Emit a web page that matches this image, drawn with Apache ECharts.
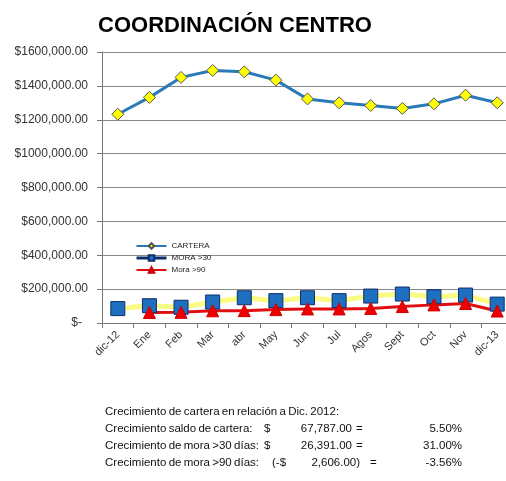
<!DOCTYPE html>
<html><head><meta charset="utf-8">
<script src="https://cdn.jsdelivr.net/npm/echarts@6/dist/echarts.min.js"></script>
<style>html,body{margin:0;padding:0;background:#fff}#c{width:506px;height:481px}</style>
</head><body><div id="c"></div>
<script>
var categories = ['dic-12','Ene','Feb','Mar','abr','May','Jun','Jul','Agos','Sept','Oct','Nov','dic-13'];
var cartera = [1232491,1332000,1450000,1491000,1483000,1434000,1323000,1300000,1284000,1267000,1294000,1345000,1300278];
var mora30 = [85132,102000,93000,124000,149000,132000,149000,132000,159000,171000,155000,165000,111523];
var mora90 = [null,62000,63000,72000,73000,79000,83000,83000,86000,97000,107000,115000,70596];
var yTicks = [0,200000,400000,600000,800000,1000000,1200000,1400000,1600000];
var seriesNames = ['CARTERA','MORA >30','Mora >90'];
var title = 'COORDINACIÓN CENTRO';
var noteLabels = ['Crecimiento de cartera en relación a Dic. 2012:', 'Crecimiento saldo de cartera:', 'Crecimiento de mora >30 días:', 'Crecimiento de mora >90 días:'];
var noteCurrency = ['', '$', '$', '(-$'];
var noteAmounts = ['', '67,787.00', '26,391.00', '2,606.00)'];
var notePercents = ['', '5.50%', '31.00%', '-3.56%'];

var chart = echarts.init(document.getElementById('c'), null, {renderer:'canvas'});
var font = 'Liberation Sans, Arial, sans-serif';
var TS = '\u2009';
function tight(s){ return s.split(' ').join(TS); }
var graphics = [];
var curX = [0, 264, 264, 272];
var amtRight = [0, 352, 352, 360];
var eqX = [0, 356, 356, 370];
noteLabels.forEach(function(lbl, i){
  var y = 412 + i*17;
  var st = function(t, align){ return {text:t, font:'11.5px ' + font, fill:'#111', textAlign:align||'left', textVerticalAlign:'middle'}; };
  graphics.push({type:'text', x:105, y:y, style:st(tight(lbl))});
  if (noteCurrency[i]) {
    graphics.push({type:'text', x:curX[i], y:y, style:st(noteCurrency[i])});
    graphics.push({type:'text', x:amtRight[i], y:y, style:st(noteAmounts[i], 'right')});
    graphics.push({type:'text', x:eqX[i], y:y, style:st('=')});
    graphics.push({type:'text', x:462, y:y, style:st(notePercents[i], 'right')});
  }
});

chart.setOption({
  animation:false,
  backgroundColor:'#fff',
  title:{text:title, left:230, top:10, textAlign:'center',
    textStyle:{fontFamily:font, fontSize:22, fontWeight:'bold', color:'#000'}},
  legend:{orient:'vertical', left:130, top:237, itemGap:4, itemWidth:30, itemHeight:7,
    textStyle:{fontFamily:font, fontSize:8, color:'#222'},
    data:[
      {name:seriesNames[0]},
      {name:seriesNames[1], lineStyle:{color:'#0d2d6b', width:3, opacity:1}},
      {name:seriesNames[2]}
    ]},
  grid:{left:102, width:411, top:52, height:271, outerBoundsMode:'none', containLabel:false},
  xAxis:{type:'category', data:categories, boundaryGap:true,
    axisLine:{lineStyle:{color:'#777'}},
    axisTick:{show:true, length:5, lineStyle:{color:'#777'}},
    axisLabel:{rotate:45, fontFamily:font, fontSize:11, color:'#333', margin:10}},
  yAxis:{type:'value', min:0, max:1600000, interval:200000,
    axisLine:{show:true, lineStyle:{color:'#777'}},
    axisTick:{show:true, length:5, lineStyle:{color:'#777'}},
    splitLine:{lineStyle:{color:'#888', width:1}},
    axisLabel:{fontFamily:font, fontSize:12, color:'#333', margin:14,
      formatter:function(v){ return v===0 ? '$-\u2002' : '$' + (v/1000) + ',000.00'; }}},
  series:[
    {name:seriesNames[0], type:'line', data:cartera, symbol:'diamond', symbolSize:12,
      lineStyle:{color:'#2a7ab8', width:3},
      itemStyle:{color:'#ffff00', borderColor:'#555', borderWidth:1}},
    {name:seriesNames[1], type:'line', data:mora30, symbol:'rect', symbolSize:14,
      lineStyle:{color:'rgba(250,250,90,0.75)', width:5},
      itemStyle:{color:'#1f6fc0', borderColor:'#0d2d6b', borderWidth:1}},
    {name:seriesNames[2], type:'line', data:mora90, symbol:'triangle', symbolSize:12,
      lineStyle:{color:'#e01010', width:3},
      itemStyle:{color:'#ee0000', borderColor:'#cc0000', borderWidth:1}}
  ],
  graphic:graphics
});
</script></body></html>
